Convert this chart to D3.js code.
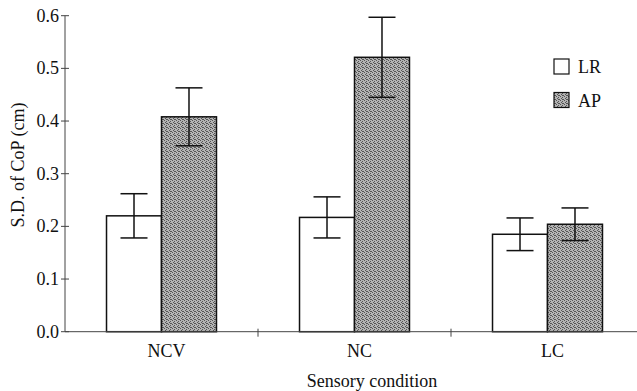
<!DOCTYPE html>
<html>
<head>
<meta charset="utf-8">
<script src="https://cdn.jsdelivr.net/npm/d3@7"></script>
<style>
  body { margin: 0; background: #fff; }
  text { font-family: "Liberation Serif", "DejaVu Serif", serif; fill: #111; }
</style>
</head>
<body>
<div id="chart-area"></div>
<script>
// data
const conditions = ['NCV', 'NC', 'LC'];
const series = ['LR', 'AP'];
const lrValues = [0.220, 0.217, 0.185];
const apValues = [0.408, 0.521, 0.204];
const lrErrors = [0.042, 0.039, 0.031];
const apErrors = [0.055, 0.076, 0.031];
const yTicks = [0.0, 0.1, 0.2, 0.3, 0.4, 0.5, 0.6];

const W = 637, H = 391;
const svg = d3.select('#chart-area').append('svg')
  .attr('width', W).attr('height', H);

// halftone grey for AP bars
const defs = svg.append('defs');
const pat = defs.append('pattern')
  .attr('id', 'stipple').attr('patternUnits', 'userSpaceOnUse')
  .attr('width', 4).attr('height', 4);
pat.append('rect').attr('width', 4).attr('height', 4).attr('fill', '#b4b4b4');
[[0, 0], [2, 1], [1, 2], [3, 3], [2, 3]].forEach(p => {
  pat.append('rect').attr('x', p[0]).attr('y', p[1])
    .attr('width', 1).attr('height', 1).attr('fill', '#555');
});

// scales
const x = d3.scaleBand().domain(conditions).range([65, 644]).padding(0);
const xs = d3.scaleBand().domain(series).range([0, x.bandwidth()])
  .paddingInner(0).paddingOuter(0.755);
const y = d3.scaleLinear().domain([0, 0.6]).range([331.7, 15.7]);

// rows for the bars
const rows = [];
conditions.forEach((c, i) => {
  rows.push({ cond: c, s: 'LR', v: lrValues[i], e: lrErrors[i] });
  rows.push({ cond: c, s: 'AP', v: apValues[i], e: apErrors[i] });
});

// bars
svg.append('g').selectAll('rect')
  .data(rows).enter().append('rect')
  .attr('x', d => x(d.cond) + xs(d.s))
  .attr('y', d => y(d.v))
  .attr('width', xs.bandwidth())
  .attr('height', d => y(0) - y(d.v))
  .attr('fill', d => d.s === 'AP' ? 'url(#stipple)' : '#fff')
  .attr('stroke', '#111')
  .attr('stroke-width', 1.5);

// error bars
const eb = svg.append('g').attr('stroke', '#111').attr('stroke-width', 1.5);
const cap = 13.5;
rows.forEach(d => {
  const cx = x(d.cond) + xs(d.s) + xs.bandwidth() / 2;
  eb.append('line').attr('x1', cx).attr('x2', cx)
    .attr('y1', y(d.v + d.e)).attr('y2', y(d.v - d.e));
  eb.append('line').attr('x1', cx - cap).attr('x2', cx + cap)
    .attr('y1', y(d.v + d.e)).attr('y2', y(d.v + d.e));
  eb.append('line').attr('x1', cx - cap).attr('x2', cx + cap)
    .attr('y1', y(d.v - d.e)).attr('y2', y(d.v - d.e));
});

// y axis
const ya = svg.append('g').attr('stroke', '#444').attr('stroke-width', 1);
ya.append('line').attr('x1', 65).attr('x2', 65).attr('y1', y(0.6)).attr('y2', y(0));
ya.selectAll('line.tk').data(yTicks).enter().append('line')
  .attr('class', 'tk')
  .attr('x1', 61).attr('x2', 69)
  .attr('y1', d => y(d)).attr('y2', d => y(d));
svg.append('g').selectAll('text').data(yTicks).enter().append('text')
  .attr('x', 59).attr('y', d => y(d) + 6)
  .attr('text-anchor', 'end')
  .attr('font-size', '18px')
  .text(d => d.toFixed(1));

// x axis
const xa = svg.append('g').attr('stroke', '#444').attr('stroke-width', 1);
xa.append('line').attr('x1', 65).attr('x2', W).attr('y1', y(0)).attr('y2', y(0));
xa.selectAll('line.tk').data(conditions.slice(1)).enter().append('line')
  .attr('class', 'tk')
  .attr('x1', d => x(d)).attr('x2', d => x(d))
  .attr('y1', y(0) - 3).attr('y2', y(0) + 5);
svg.append('g').selectAll('text').data(conditions).enter().append('text')
  .attr('x', d => x(d) + x.bandwidth() / 2 + 5)
  .attr('y', 357)
  .attr('text-anchor', 'middle')
  .attr('font-size', '18px')
  .text(d => d);

// axis titles
svg.append('text')
  .attr('x', 372).attr('y', 387)
  .attr('text-anchor', 'middle')
  .attr('font-size', '18px')
  .text('Sensory condition');
svg.append('text')
  .attr('transform', 'translate(24,165) rotate(-90)')
  .attr('text-anchor', 'middle')
  .attr('font-size', '18px')
  .text('S.D. of CoP (cm)');

// legend
const legend = svg.append('g');
series.forEach((s, i) => {
  const ly = 59 + i * 33.5;
  legend.append('rect')
    .attr('x', 554).attr('y', ly)
    .attr('width', 15).attr('height', 15)
    .attr('fill', s === 'AP' ? 'url(#stipple)' : '#fff')
    .attr('stroke', '#111').attr('stroke-width', 1.2);
  legend.append('text')
    .attr('x', 578).attr('y', ly + 14)
    .attr('font-size', '18px')
    .text(s);
});
</script>
</body>
</html>
